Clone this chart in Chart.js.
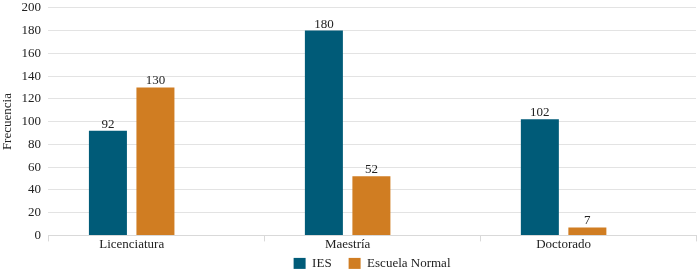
<!DOCTYPE html>
<html>
<head>
<meta charset="utf-8">
<script src="https://cdn.jsdelivr.net/npm/chart.js@4/dist/chart.umd.min.js"></script>
<style>
  html, body { margin: 0; padding: 0; background: #fff; }
  #wrap { width: 700px; height: 273px; }
</style>
</head>
<body>
<div id="wrap"><canvas id="gradosChart"></canvas></div>
<script>
var categorias = ["Licenciatura", "Maestría", "Doctorado"];
var ies = [92, 180, 102];
var normal = [130, 52, 7];
var series = ["IES", "Escuela Normal"];

// draws the value above each bar
var etiquetas = {
  id: 'etiquetas',
  afterDatasetsDraw: function(chart) {
    var ctx = chart.ctx;
    ctx.save();
    ctx.font = '13px "Liberation Serif"';
    ctx.fillStyle = '#222';
    ctx.textAlign = 'center';
    ctx.textBaseline = 'alphabetic';
    chart.data.datasets.forEach(function(ds, i) {
      chart.getDatasetMeta(i).data.forEach(function(bar, j) {
        ctx.fillText(ds.data[j], bar.x, bar.y - 3);
      });
    });
    ctx.restore();
  }
};

// the category boundary ticks sit on the plot edges, the groups are a bit to the left
var marcas = {
  id: 'marcas',
  afterLayout: function(chart) {
    var a = chart.chartArea;
    var lg = chart.legend;
    lg.left = a.left;
    lg.right = a.right;
    // legend row centred under the axis
    lg.top = a.bottom + 28 - lg.options.labels.padding - 6.5;
  },
  afterDraw: function(chart) {
    var a = chart.chartArea;
    var ctx = chart.ctx;
    var n = categorias.length;
    ctx.save();
    ctx.strokeStyle = '#d9d9d9';
    ctx.lineWidth = 1;
    ctx.beginPath();
    for (var i = 0; i <= n; i++) {
      var x = Math.round(a.left + (a.right - a.left) * i / n) + 0.5;
      ctx.moveTo(x, a.bottom);
      ctx.lineTo(x, a.bottom + 6);
    }
    ctx.stroke();
    ctx.restore();
  }
};

window.onload = function() {
  Chart.defaults.font.family = '"Liberation Serif", serif';
  Chart.defaults.font.size = 13;
  Chart.defaults.color = '#222';
  var ctx = document.getElementById('gradosChart').getContext('2d');
  new Chart(ctx, {
    type: 'bar',
    data: {
      labels: categorias,
      datasets: [{
        label: series[0],
        backgroundColor: '#005B78',
        data: ies,
        categoryPercentage: 0.44,
        barPercentage: 0.8
      }, {
        label: series[1],
        backgroundColor: '#D07D22',
        data: normal,
        categoryPercentage: 0.44,
        barPercentage: 0.8
      }]
    },
    options: {
      responsive: true,
      maintainAspectRatio: false,
      animation: false,
      layout: { padding: { top: 0, right: 4, left: 0, bottom: 0 } },
      plugins: {
        legend: {
          position: 'bottom',
          maxHeight: 20,
          labels: { boxWidth: 12, boxHeight: 11, padding: 17 }
        },
        tooltip: { enabled: false }
      },
      scales: {
        x: {
          offset: true,
          grid: { display: false, drawTicks: false },
          border: { color: '#d9d9d9' },
          ticks: { padding: 1 },
          afterBuildTicks: function(scale) {
            scale._startValue = -0.5 + 0.113;
          }
        },
        y: {
          min: 0,
          max: 200,
          ticks: { stepSize: 20, padding: 0 },
          grid: { color: '#e3e3e3', drawTicks: true, tickLength: 7, tickColor: 'rgba(0,0,0,0)' },
          border: { display: false },
          title: { display: true, text: 'Frecuencia', font: { size: 13 }, padding: 0 },
          afterFit: function(scale) {
            scale.width += 6;
          }
        }
      }
    },
    plugins: [etiquetas, marcas]
  });
};
</script>
</body>
</html>
